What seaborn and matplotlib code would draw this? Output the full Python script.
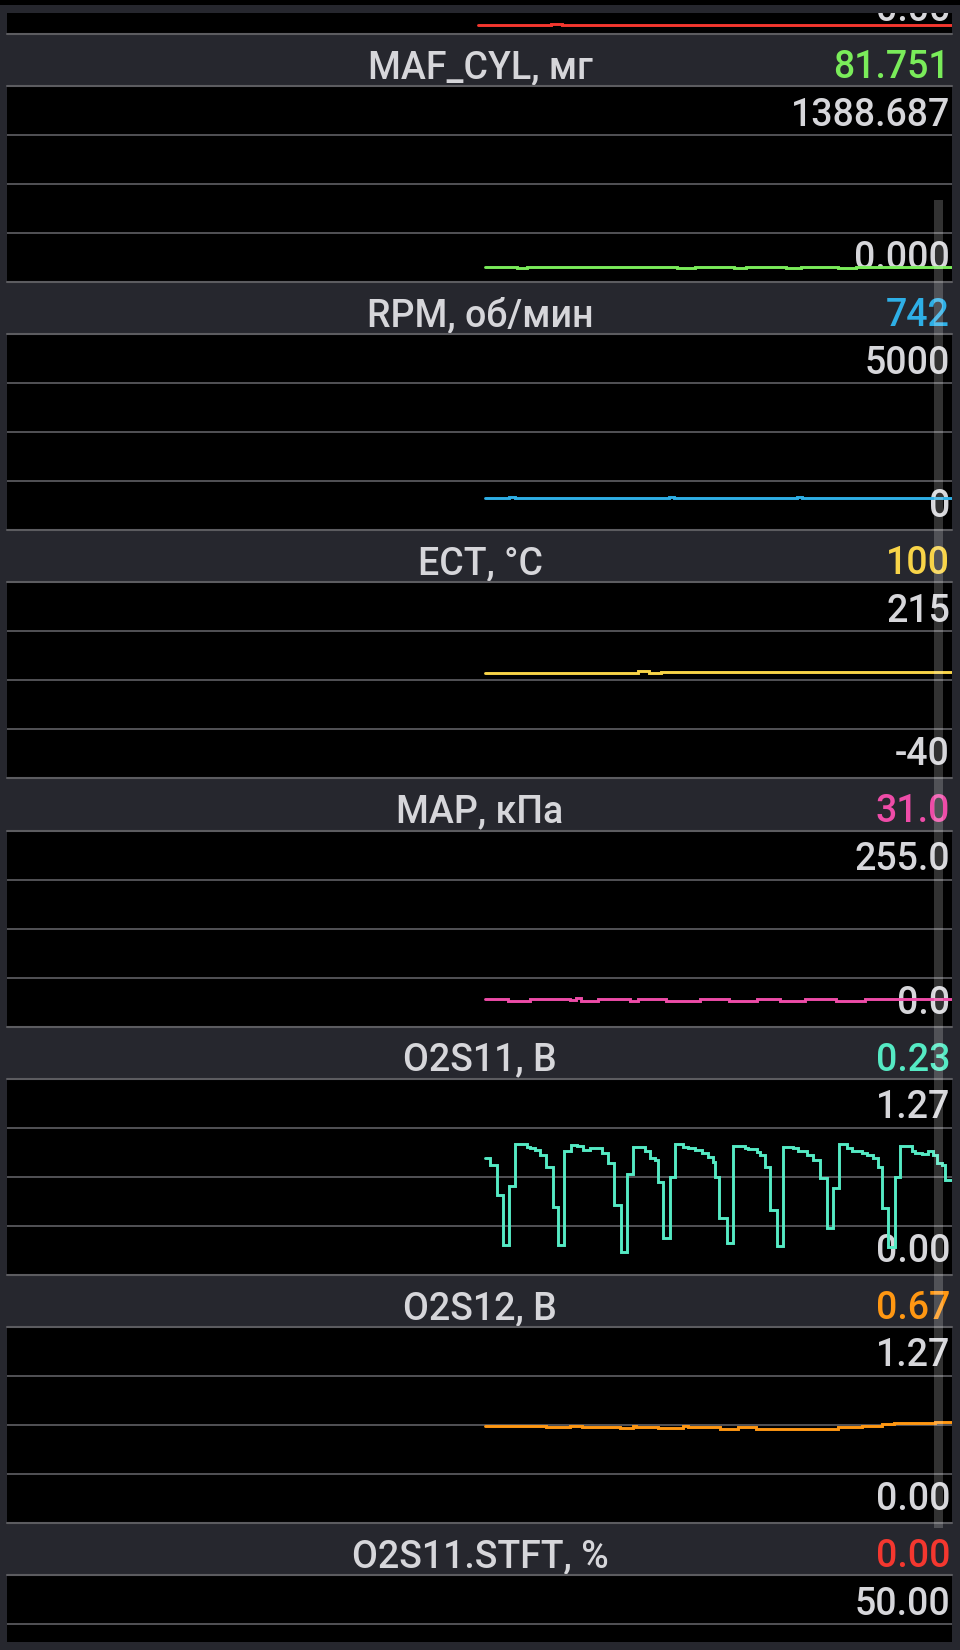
import matplotlib
matplotlib.use("Agg")
import matplotlib.pyplot as plt
import seaborn as sns
import pandas as pd
from matplotlib.lines import Line2D
from matplotlib.patches import Rectangle

# ---------------- data ----------------
titles = ["MAF_CYL, мг", "RPM, об/мин", "ECT, °C", "MAP, кПа",
          "O2S11, В", "O2S12, В", "O2S11.STFT, %"]
current_values = ["81.751", "742", "100", "31.0", "0.23", "0.67", "0.00"]
max_labels = ["1388.687", "5000", "215", "255.0", "1.27", "1.27", "50.00"]
min_labels = ["0.000", "0", "-40", "0.0", "0.00", "0.00", None]
y_min = [0.0, 0.0, -40.0, 0.0, 0.0, 0.0, -50.0]
y_max = [1388.687, 5000.0, 215.0, 255.0, 1.27, 1.27, 50.0]
series_colors = ["#7aec5a", "#2eafe6", "#f8d448", "#ee4ca8",
                 "#55eac4", "#ff9712", "#f4372f"]

# partially visible panel at the very top (cut off)
prev_min_label = "0.00"
prev_color = "#f4372f"
prev_range = (0.0, 100.0)
prev_t = [-1.2, 11.7, 13.5, 82.35]
prev_v = [2.0, 2.6, 2.0, 2.0]

maf_t = [0, 5.6, 7.4, 33.8, 37.0, 44.0, 46.1, 53.1, 55.8, 62.3, 65.5, 82.35]
maf_v = [78, 66, 78, 66, 78, 66, 78, 66, 78, 66, 78, 78]

rpm_t = [0, 4.3, 5.3, 32.4, 33.4, 55.0, 56.0, 82.35]
rpm_v = [735, 775, 735, 775, 735, 760, 735, 735]

ect_t = [0, 27, 29, 31, 82.35]
ect_v = [99, 101, 98, 100, 100]

map_t = [0, 4, 8, 15, 16, 17, 20, 25.5, 27, 32, 38, 43, 48, 52, 56.5, 62, 67, 82.35]
map_v = [31, 29, 31, 30, 32, 29, 31, 29, 31, 29, 31, 29, 31, 29, 31, 29, 31, 31]

o2s11_t = [0.00, 0.88, 2.06, 3.24, 4.24, 5.29, 7.35, 7.94, 8.82, 9.71, 10.70,
           12.06, 12.94, 14.00, 15.18, 16.18, 17.35, 18.53, 20.59, 21.76, 22.82,
           23.94, 25.00, 26.18, 27.35, 28.24, 29.12, 30.00, 30.47, 31.47, 32.65,
           33.53, 35.00, 35.88, 37.06, 38.24, 39.41, 40.29, 40.59, 41.29, 42.65,
           43.82, 45.88, 46.47, 47.94, 48.53, 49.41, 50.29, 51.47, 52.65, 54.41,
           55.29, 56.76, 57.94, 59.12, 60.29, 61.35, 62.47, 63.82, 64.71, 66.47,
           67.35, 68.53, 69.41, 70.00, 71.18, 72.35, 73.24, 75.29, 75.88, 77.06,
           78.24, 79.12, 79.71, 80.59, 81.18, 82.35]
o2s11_v = [0.770, 0.719, 0.513, 0.170, 0.575, 0.863, 0.845, 0.834, 0.822, 0.788,
           0.703, 0.429, 0.170, 0.818, 0.857, 0.852, 0.822, 0.834, 0.804, 0.731,
           0.445, 0.124, 0.655, 0.845, 0.841, 0.818, 0.765, 0.754, 0.603, 0.216,
           0.639, 0.863, 0.845, 0.834, 0.822, 0.804, 0.776, 0.742, 0.639, 0.353,
           0.186, 0.850, 0.834, 0.827, 0.811, 0.788, 0.703, 0.410, 0.163, 0.845,
           0.834, 0.818, 0.788, 0.754, 0.628, 0.285, 0.564, 0.861, 0.834, 0.818,
           0.804, 0.788, 0.765, 0.703, 0.422, 0.159, 0.639, 0.850, 0.818, 0.804,
           0.795, 0.818, 0.788, 0.735, 0.719, 0.616, 0.616]

o2s12_t = [0, 10.7, 15.0, 17.2, 23.8, 26.1, 26.7, 30.5, 34.9, 35.8, 41.4, 44.6,
           47.9, 62.2, 63.3, 66.6, 70.1, 72.1, 79.4, 82.35]
o2s12_v = [0.631, 0.622, 0.634, 0.625, 0.618, 0.634, 0.625, 0.618, 0.629, 0.625,
           0.613, 0.622, 0.613, 0.622, 0.627, 0.634, 0.645, 0.650, 0.659, 0.659]

stft_t = [0, 82.35]
stft_v = [0.0, 0.0]

# ---------------- style / layout ----------------
sns.set_theme(style="dark")
plt.rcParams["font.family"] = ["Roboto", "DejaVu Sans"]

W, H = 960, 1650
FRAME = "#26272e"
GRID = "#525256"
EDGE = "#5c5c60"
TEXT = "#d6d6da"
FS = 27
FW = "medium"

PANEL_L, PANEL_R = 7.0, 951.7
HDR0, PERIOD, HDR_H, PANEL_H = 33.8, 248.2, 52.2, 196.0
BAND = PANEL_H / 4
T_END, T_PX0 = 82.35, 485.0


def fx(x):
    return x / W


def fy(y):
    return 1 - y / H


fig = plt.figure(figsize=(W / 100, H / 100), dpi=100)
fig.patch.set_facecolor(FRAME)


def make_panel(top, vmin, vmax, t, v, color, max_lab, min_lab):
    ax = fig.add_axes([fx(PANEL_L), fy(top + PANEL_H),
                       fx(PANEL_R) - fx(PANEL_L), PANEL_H / H])
    ax.set_facecolor("black")
    df = pd.DataFrame({"t": t, "v": v})
    sns.lineplot(data=df, x="t", y="v", ax=ax, color=color, lw=2.1,
                 drawstyle="steps-post", errorbar=None, legend=False,
                 zorder=5, solid_joinstyle="miter")
    rng = vmax - vmin
    ax.set_ylim(vmin - 5 / 185 * rng, vmax + 6 / 185 * rng)
    span = T_END * (PANEL_R - PANEL_L) / (PANEL_R - T_PX0)
    ax.set_xlim(T_END - span, T_END)
    for s in ax.spines.values():
        s.set_visible(False)
    ax.set_xticks([])
    ax.set_yticks([])
    ax.set_xlabel("")
    ax.set_ylabel("")
    for k in (1, 2, 3):
        ax.add_line(Line2D([0, 1], [k / 4, k / 4], transform=ax.transAxes,
                           color=GRID, lw=1.4, zorder=1))
    if max_lab:
        ax.text(fx(950), fy(top + 39.5), max_lab, transform=fig.transFigure,
                ha="right", va="baseline", color=TEXT, fontsize=FS,
                fontweight=FW, zorder=2)
    if min_lab:
        ax.text(fx(950), fy(top + 3 * BAND + 36), min_lab,
                transform=fig.transFigure, ha="right", va="baseline",
                color=TEXT, fontsize=FS, fontweight=FW, zorder=2)
    return ax


# top partially visible panel
make_panel(HDR0 - PANEL_H, prev_range[0], prev_range[1], prev_t, prev_v,
           prev_color, None, prev_min_label)

series_t = [maf_t, rpm_t, ect_t, map_t, o2s11_t, o2s12_t, stft_t]
series_v = [maf_v, rpm_v, ect_v, map_v, o2s11_v, o2s12_v, stft_v]

for i in range(len(titles)):
    htop = HDR0 + i * PERIOD
    ptop = htop + HDR_H
    make_panel(ptop, y_min[i], y_max[i], series_t[i], series_v[i],
               series_colors[i], max_labels[i], min_labels[i])
    fig.text(fx(480), fy(htop + 44), titles[i], ha="center", va="baseline",
             color=TEXT, fontsize=FS, fontweight=FW)
    fig.text(fx(950), fy(htop + 44), current_values[i], ha="right",
             va="baseline", color=series_colors[i], fontsize=FS, fontweight=FW)
    for yy in (htop, ptop):
        fig.add_artist(Line2D([fx(PANEL_L), fx(PANEL_R)], [fy(yy), fy(yy)],
                              transform=fig.transFigure, color=EDGE, lw=1.5,
                              zorder=4))

# top status strip and bottom frame
fig.add_artist(Rectangle((0, fy(13)), 1, 13 / H, transform=fig.transFigure,
                         facecolor=FRAME, edgecolor="none", zorder=10))
fig.add_artist(Rectangle((0, fy(5)), 1, 5 / H, transform=fig.transFigure,
                         facecolor="black", edgecolor="none", zorder=11))
fig.add_artist(Rectangle((0, 0), 1, 8 / H, transform=fig.transFigure,
                         facecolor=FRAME, edgecolor="none", zorder=10))

# scrollbar
fig.add_artist(Rectangle((fx(934), fy(1528)), fx(942.5) - fx(934), (1528 - 200) / H,
                         transform=fig.transFigure, facecolor="white",
                         alpha=0.2, edgecolor="none", zorder=20))

fig.savefig("out.png", dpi=100, facecolor=FRAME)
